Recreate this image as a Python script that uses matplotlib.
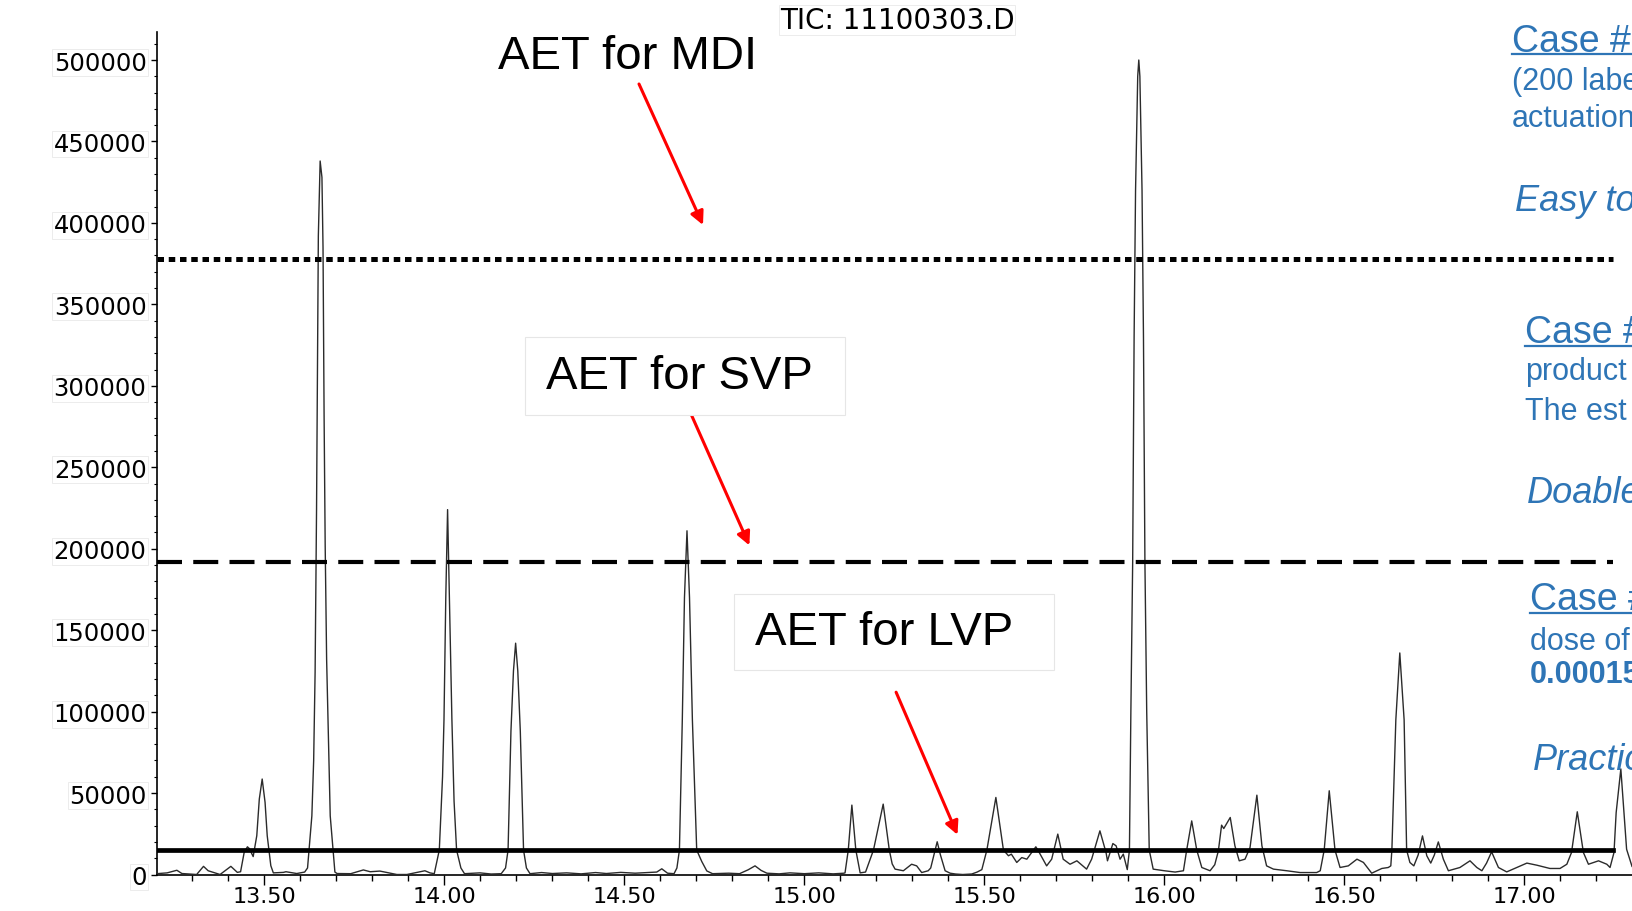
import matplotlib.pyplot as plt
from matplotlib.lines import Line2D
from matplotlib.patches import Rectangle
from matplotlib.ticker import MultipleLocator, FormatStrFormatter

# Chromatogram trace (retention time in min, abundance)
rt = [13.201, 13.230, 13.257, 13.271, 13.312, 13.331, 13.344, 13.358, 13.377, 13.407,
      13.425, 13.434, 13.444, 13.453, 13.458, 13.469, 13.479, 13.486, 13.494, 13.502,
      13.508, 13.518, 13.525, 13.553, 13.560, 13.590, 13.612,
      13.620, 13.632, 13.637, 13.641, 13.645, 13.648, 13.650, 13.655, 13.660, 13.663,
      13.666, 13.669, 13.673, 13.683, 13.696, 13.702,
      13.740, 13.775, 13.794, 13.821, 13.868, 13.896, 13.946, 13.960,
      13.972, 13.986, 13.995, 13.999, 14.004, 14.009, 14.014, 14.021, 14.027, 14.034,
      14.046, 14.056, 14.099, 14.130,
      14.158, 14.170, 14.177, 14.185, 14.192, 14.198, 14.204, 14.211, 14.220, 14.228,
      14.238, 14.270, 14.300, 14.340, 14.380, 14.420, 14.450, 14.490, 14.530, 14.565,
      14.590, 14.604, 14.620,
      14.638, 14.646, 14.653, 14.661, 14.667, 14.674, 14.681, 14.689, 14.701, 14.715,
      14.729, 14.745, 14.790, 14.820, 14.844, 14.863, 14.880, 14.896, 14.930, 14.960,
      15.000, 15.040, 15.080, 15.110,
      15.113, 15.122, 15.132, 15.143, 15.155, 15.170, 15.192, 15.219, 15.236, 15.244,
      15.252, 15.275, 15.298, 15.312, 15.326, 15.344,
      15.351, 15.360, 15.369, 15.378, 15.391, 15.405, 15.420, 15.440, 15.465, 15.480,
      15.493, 15.507, 15.532, 15.553, 15.567, 15.575, 15.590, 15.604, 15.618, 15.643,
      15.650, 15.673, 15.687, 15.704, 15.719, 15.738, 15.757, 15.784, 15.798, 15.821,
      15.838, 15.842, 15.857, 15.866, 15.877, 15.886,
      15.897, 15.903, 15.907, 15.912, 15.916, 15.920, 15.926, 15.929, 15.932, 15.938,
      15.942, 15.946, 15.951, 15.958, 15.969, 16.000, 16.030, 16.053,
      16.062, 16.076, 16.090, 16.104, 16.127, 16.140, 16.150, 16.159, 16.165, 16.183,
      16.196, 16.208, 16.224, 16.238, 16.257, 16.271, 16.284, 16.303, 16.340, 16.377,
      16.423, 16.433, 16.444, 16.458, 16.474, 16.488, 16.511, 16.535, 16.553, 16.576,
      16.604, 16.622, 16.629, 16.632, 16.643, 16.654, 16.666, 16.673, 16.682, 16.693,
      16.705, 16.717, 16.729, 16.740, 16.750, 16.761, 16.775, 16.789, 16.821, 16.849,
      16.868, 16.882, 16.895, 16.909, 16.928, 16.951, 16.979, 17.007, 17.035, 17.071,
      17.099, 17.118, 17.131, 17.147, 17.164, 17.178, 17.206, 17.229, 17.238, 17.249,
      17.255, 17.268, 17.284, 17.299]
abundance = [500, 1000, 2600, 600, 0, 5000, 2300, 1300, 0, 5000,
             1300, 1700, 13600, 17000, 16000, 11000, 23800, 46300, 58600, 44300,
             23800, 5400, 1000, 1300, 1700, 600, 1500,
             4000, 36000, 70000, 124000, 224000, 330000, 392000, 438000, 428000, 385000,
             281000, 202000, 132000, 36000, 1500, 600,
             500, 2800, 1700, 2100, 0, 0, 2300, 1000,
             500, 15000, 60000, 95000, 170000, 224000, 170000, 95000, 45000, 15000,
             4000, 500, 1000, 300,
             500, 4000, 15000, 88000, 125000, 142000, 125000, 88000, 15000, 4000,
             500, 1200, 600, 1000, 400, 1200, 600, 1300, 800, 1200,
             1500, 3500, 800,
             500, 4000, 15000, 95000, 170000, 211000, 170000, 95000, 15000, 8000,
             2200, 500, 800, 500, 2900, 5300, 2500, 800, 400, 1000,
             500, 1000, 400, 800,
             1000, 15000, 42600, 15000, 1000, 1500, 15000, 43200, 15000, 6500,
             3300, 2300, 6300, 5300, 1200, 2300,
             4000, 12000, 20100, 12000, 2300, 800, 300, 0, 300, 1500,
             3000, 15000, 47300, 15000, 11500, 12500, 7400, 10400, 9400, 17000,
             14500, 5300, 9400, 24800, 9400, 6300, 8400, 3300, 9400, 26800,
             13500, 8400, 19000, 17600, 9400, 12500,
             3000, 15000, 100000, 192000, 330000, 420000, 490000, 500000, 490000, 420000,
             330000, 192000, 100000, 15000, 3300, 2300, 1500, 2300,
             15000, 32900, 15000, 4300, 2300, 6000, 14500, 30300, 28200, 35000,
             17600, 8400, 9400, 16600, 48700, 17600, 5300, 3300, 2300, 1200,
             1200, 2300, 15000, 51400, 15000, 4300, 5300, 9400, 7400, 800,
             3700, 4300, 5300, 15000, 95000, 136000, 95000, 15000, 7400, 5300,
             12000, 23700, 11500, 7000, 12000, 20000, 9400, 2300, 4300, 8400,
             4300, 2300, 7000, 13900, 4300, 1600, 4300, 7000, 5700, 3700,
             3700, 6300, 13500, 38500, 13500, 6300, 8400, 6300, 4300, 13500,
             38000, 64800, 15500, 5000]

# AET thresholds
aet_levels = [378000, 192000, 15000]
aet_styles = [(0, (1.3, 0.95)), (0, (6, 2.7)), '-']
aet_labels = ['AET for MDI', 'AET for SVP', 'AET for LVP']
line_start, line_end = 13.201, 17.246

W, H = 1632, 912
blue = '#2E75B6'


def fx(x):
    return x / W


def fy(y):
    return 1 - y / H


fig = plt.figure(figsize=(W / 100, H / 100), dpi=100)
ax = fig.add_axes([fx(156.7), 1 - 875.5 / H, 1 - fx(156.7), (875.5 - 33) / H])

ax.plot(rt, abundance, color='#2b2b2b', lw=1.0, zorder=3)
for lev, ls, lw in zip(aet_levels, aet_styles, [3.6, 3.0, 3.4]):
    l, = ax.plot([line_start, line_end], [lev, lev], color='black', lw=lw, linestyle=ls, zorder=4)
    l.set_dash_capstyle('butt')

ax.set_xlim(13.201, 17.299)
ax.set_ylim(0, 517200)
ax.spines['top'].set_visible(False)
ax.spines['right'].set_visible(False)
ax.spines['left'].set_linewidth(1.2)
ax.spines['bottom'].set_linewidth(1.2)

ax.yaxis.set_major_locator(MultipleLocator(50000))
ax.yaxis.set_minor_locator(MultipleLocator(10000))
ax.xaxis.set_major_locator(MultipleLocator(0.5))
ax.xaxis.set_minor_locator(MultipleLocator(0.1))
ax.xaxis.set_major_formatter(FormatStrFormatter('%.2f'))
ax.yaxis.set_major_formatter(FormatStrFormatter('%d'))
ax.tick_params(axis='y', which='major', length=4.3, width=1, pad=3, labelsize=17.5)
ax.tick_params(axis='y', which='minor', length=2.4, width=0.8)
ax.tick_params(axis='x', which='major', length=7.5, width=1, pad=0.5, labelsize=16)
ax.tick_params(axis='x', which='minor', length=4.3, width=1)
for lab in ax.get_yticklabels():
    lab.set_family('DejaVu Sans')
    lab.set_bbox(dict(facecolor='white', edgecolor='#ececec', lw=0.7, pad=1.0))
for lab in ax.get_xticklabels():
    lab.set_family('DejaVu Sans')

fig.text(fx(897), fy(21), 'TIC: 11100303.D', ha='center', va='center', fontsize=20,
         family='DejaVu Sans', bbox=dict(facecolor='white', edgecolor='#ececec', lw=0.7, pad=0.5))

# AET labels
for (x0, y0, x1, y1) in [(524.6, 338.3, 845.1, 416.3), (733.8, 595.3, 1054.3, 671.3)]:
    fig.patches.append(Rectangle((fx(x0), fy(y1)), (x1 - x0) / W, (y1 - y0) / H,
                                 transform=fig.transFigure, facecolor='white',
                                 edgecolor='#e6e6e6', lw=0.8, zorder=2))
for txt, (x, y) in zip(aet_labels, [(627.6, 57), (679.6, 377), (884.2, 633)]):
    fig.text(fx(x), fy(y), txt, ha='center', va='center', fontsize=34,
             family='Liberation Sans', zorder=5)

# red arrows
arrows = [((639, 85), (703, 226)), ((687, 406), (749.4, 546.4)), ((896.1, 693.2), (957.5, 835.8))]
for (tx, ty), (hx, hy) in arrows:
    ax.annotate('', xy=(fx(hx), fy(hy)), xytext=(fx(tx), fy(ty)), xycoords='figure fraction',
                textcoords='figure fraction',
                arrowprops=dict(arrowstyle='-|>', color='#ff0000', lw=2.2, mutation_scale=20,
                                shrinkA=0, shrinkB=0))

# right-hand slide text (cut off at the slide edge, as in the source)
side = [
    ('Case #1', 1512, 51.5, 27, 'normal', 'normal', 54.5),
    ('(200 label', 1512, 90, 22, 'normal', 'normal', None),
    ('actuation', 1512, 126.7, 22, 'normal', 'normal', None),
    ('Easy to', 1515, 210.7, 26, 'italic', 'normal', None),
    ('Case #2', 1525, 343.3, 27, 'normal', 'normal', 346.5),
    ('product', 1525, 380, 22, 'normal', 'normal', None),
    ('The est', 1525, 420, 22, 'normal', 'normal', None),
    ('Doable', 1527, 503.3, 26, 'italic', 'normal', None),
    ('Case #3', 1530, 610, 27, 'normal', 'normal', 613.5),
    ('dose of', 1530, 650, 22, 'normal', 'normal', None),
    ('0.00015', 1530, 683.3, 22, 'normal', 'bold', None),
    ('Practic', 1533, 770, 26, 'italic', 'normal', None),
]
for txt, x, y, fs, st, wt, uy in side:
    fig.text(fx(x), fy(y), txt, ha='left', va='baseline', fontsize=fs, style=st,
             weight=wt, color=blue, family='Liberation Sans')
    if uy is not None:
        fig.add_artist(Line2D([fx(x), 1.0], [fy(uy), fy(uy)], transform=fig.transFigure,
                              color=blue, lw=1.6))

fig.savefig('out.png', dpi=100)
